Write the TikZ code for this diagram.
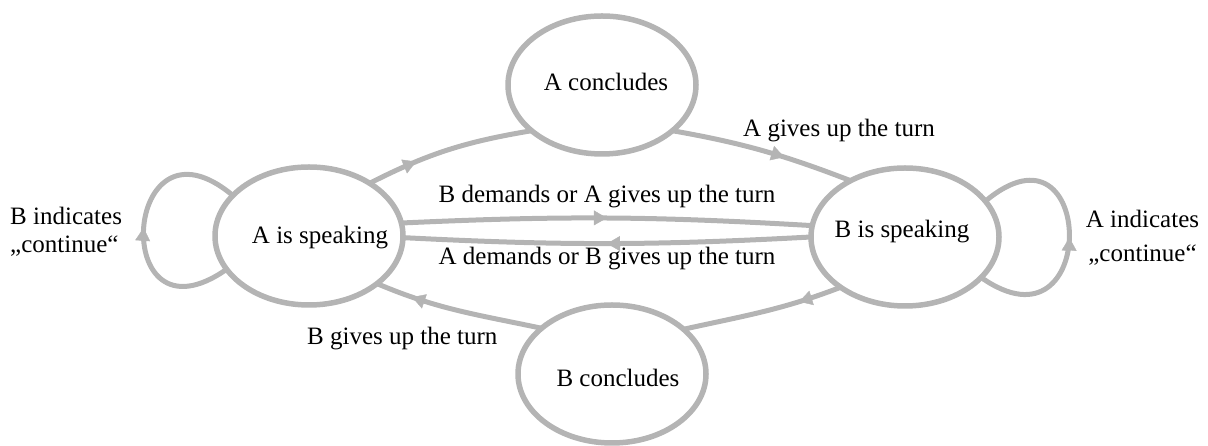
\documentclass[tikz,border=0pt]{standalone}
\usepackage{fontspec}
\setmainfont{Liberation Serif}
\usetikzlibrary{shapes.geometric,arrows.meta,decorations.markings}
\definecolor{edgegray}{RGB}{180,180,180}
\tikzset{
  state/.style={ellipse, draw=edgegray, line width=5.5pt, minimum width=188pt, minimum height=138pt, inner sep=0pt, outer sep=0pt},
  lbl/.style={font=\fontsize{25}{30}\selectfont, inner sep=0pt, text=black},
  conn/.style={draw=edgegray, line width=5pt},
  midarrow/.style={postaction={decorate}, decoration={markings, mark=at position #1 with {\arrow[edgegray]{Triangle[length=13pt,width=15pt,line width=0.4pt]}}}},
}
\begin{document}
\begin{tikzpicture}[x=1pt,y=1pt]
\useasboundingbox (0,0) rectangle (1208,446);
% states
\node[state] (as) at (309,210) {};
\node[state] (bs) at (905,209) {};
\node[state] (ac) at (602,361) {};
\node[state] (bc) at (612,72) {};
% state texts
\node[lbl, anchor=base] (ast) at (320,202.7) {A is speaking};
\node[lbl, anchor=base] (bst) at (902,208.7) {B is speaking};
\node[lbl, anchor=base] (act) at (606,355.3) {A concludes};
\node[lbl, anchor=base] (bct) at (618,59.3) {B concludes};
% edge labels
\node[lbl, anchor=base] (l1) at (607,243) {B demands or A gives up the turn};
\node[lbl, anchor=base] (l2) at (607,181) {A demands or B gives up the turn};
\node[lbl, anchor=base west] (l3) at (743,309) {A gives up the turn};
\node[lbl, anchor=base west] (l4) at (307,101) {B gives up the turn};
\node[lbl, anchor=base west] (l5a) at (10,221) {B indicates};
\node[lbl, anchor=base west] (l5b) at (10,193) {„continue“};
\node[lbl, anchor=base] (l6a) at (1142.5,218) {A indicates};
\node[lbl, anchor=base] (l6b) at (1142.5,184) {„continue“};
% connectors
\draw[conn, midarrow=0.3] (as.41.5) to[out=27,in=189.5] (ac.213);
\draw[conn, midarrow=0.62] (ac.327.6) to[out=-10,in=159] (bs.134.5);
\draw[conn, midarrow=0.5] (as.8.3) to[bend left=3] (bs.173);
\draw[conn, midarrow=0.5] (bs.180) to[bend left=3] (as.359);
\draw[conn, midarrow=0.27] (bs.218) to[out=201,in=12.5] (bc.32);
\draw[conn, midarrow=0.78] (bc.147) to[out=168,in=-23] (as.325.4);
\draw[conn, midarrow=0.5] (as.202.5) .. controls +(215:145) and +(140:145) .. (as.152);
\draw[conn, midarrow=0.5] (bs.332.3) .. controls +(-35:145) and +(40:145) .. (bs.24.3);
\end{tikzpicture}
\end{document}
